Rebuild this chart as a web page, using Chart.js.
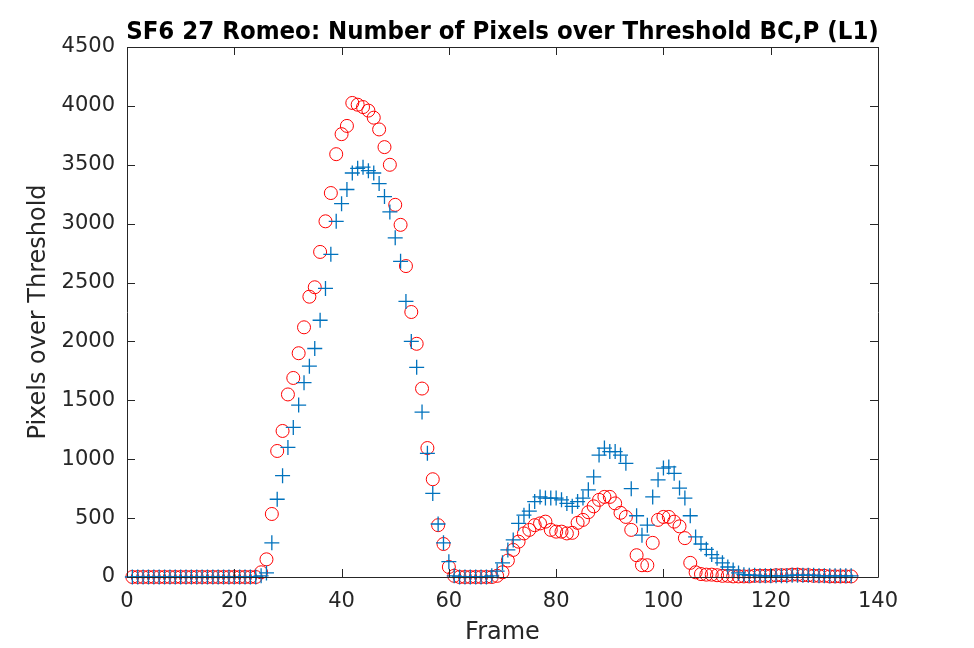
<!DOCTYPE html>
<html>
<head>
<meta charset="utf-8">
<script src="https://cdn.jsdelivr.net/npm/chart.js@4"></script>
<style>
  html, body { margin: 0; padding: 0; background: #fff; }
</style>
</head>
<body>
<canvas id="chart" width="974" height="648"></canvas>
<script>
const frames = Array.from({ length: 135 }, (_, i) => i + 1);

// blue '+' series
const plusValues = [
  0, 0, 0, 0, 0, 0, 0, 0, 0, 0, 0, 0, 0, 0, 0, 0, 0, 0, 0, 0, 0, 0, 0, 0,
  10, 35, 290, 660, 860, 1100, 1270, 1460, 1650, 1790, 1940, 2180, 2450, 2740, 3020, 3170,
  3290, 3430, 3470, 3480, 3450, 3430, 3340, 3230, 3100, 2880, 2680, 2340, 2000, 1780, 1400, 1050,
  710, 450, 290, 130, 10,
  0, 0, 0, 0, 0, 0,
  10, 50, 120, 230, 315, 455, 525, 560, 640, 680, 670, 670, 670, 655, 625, 600,
  640, 670, 740, 850, 1035, 1095, 1065, 1065, 1035, 965, 750, 520, 355, 440, 680, 825,
  925, 935, 880, 755, 670, 520, 340, 280, 235, 190, 160, 120, 85, 60, 35,
  20, 15, 15, 10, 10, 10, 10, 10, 10, 15, 15, 15, 15, 15, 10, 10, 10, 10, 10, 10, 10
];

// red 'o' series
const circleValues = [
  0, 0, 0, 0, 0, 0, 0, 0, 0, 0, 0, 0, 0, 0, 0, 0, 0, 0, 0, 0, 0, 0, 0, 0,
  40, 150, 535, 1070, 1240, 1550, 1690, 1900, 2120, 2380, 2460, 2760, 3020, 3260, 3590, 3760,
  3830, 4025, 4010, 3990, 3960, 3900, 3800, 3650, 3500, 3160, 2990, 2640, 2250, 1980, 1600, 1095,
  830, 440, 280, 85, 10,
  0, 0, 0, 0, 0, 0, 0,
  10, 40, 140, 230, 300, 370, 400, 440, 455, 470, 400, 385, 385, 370, 375, 460,
  485, 550, 600, 655, 680, 680, 625, 545, 510, 400, 185, 100, 100, 290, 485, 510,
  510, 470, 430, 330, 120, 40, 25, 20, 20, 15, 10,
  10, 5, 5, 5, 5, 10, 10, 10, 10, 15, 15, 15, 20, 20, 15, 15, 10, 10, 10, 5, 5, 5, 5, 5
];

const xTicks = [0, 20, 40, 60, 80, 100, 120, 140];
const yTicks = [0, 500, 1000, 1500, 2000, 2500, 3000, 3500, 4000, 4500];

const chartTitle = 'SF6 27 Romeo: Number of Pixels over Threshold BC,P (L1)';
const textColor = '#262626';
const tickFont = { family: 'DejaVu Sans', size: 21 };
const axisTitleFont = { family: 'DejaVu Sans', size: 24 };

// MATLAB style box with inward ticks on all four sides, title centred on the axes
const boxPlugin = {
  id: 'box',
  afterDatasetsDraw(chart) {
    const { ctx, chartArea: a, scales } = chart;
    const len = 8;
    ctx.save();
    ctx.strokeStyle = textColor;
    ctx.lineWidth = 1;
    ctx.beginPath();
    ctx.rect(Math.round(a.left) + 0.5, Math.round(a.top) + 0.5,
      Math.round(a.right - a.left), Math.round(a.bottom - a.top));
    xTicks.forEach((v) => {
      const px = Math.round(scales.x.getPixelForValue(v)) + 0.5;
      ctx.moveTo(px, a.bottom); ctx.lineTo(px, a.bottom - len);
      ctx.moveTo(px, a.top); ctx.lineTo(px, a.top + len);
    });
    yTicks.forEach((v) => {
      const py = Math.round(scales.y.getPixelForValue(v)) + 0.5;
      ctx.moveTo(a.left, py); ctx.lineTo(a.left + len, py);
      ctx.moveTo(a.right, py); ctx.lineTo(a.right - len, py);
    });
    ctx.stroke();

    ctx.fillStyle = '#000';
    ctx.font = 'bold 25.5px "DejaVu Sans Condensed", "DejaVu Sans"';
    ctx.textAlign = 'center';
    ctx.textBaseline = 'middle';
    ctx.fillText(chartTitle, (a.left + a.right) / 2, 32);
    ctx.restore();
  }
};

new Chart(document.getElementById('chart'), {
  type: 'scatter',
  data: {
    datasets: [
      {
        label: 'plus',
        data: frames.map((f, i) => ({ x: f, y: plusValues[i] })),
        pointStyle: 'cross',
        pointRadius: 7.5,
        pointHoverRadius: 7.5,
        borderColor: '#0072BD',
        backgroundColor: '#0072BD',
        pointBorderWidth: 1.3,
        clip: false
      },
      {
        label: 'circle',
        data: frames.map((f, i) => ({ x: f, y: circleValues[i] })),
        pointStyle: 'circle',
        pointRadius: 6.5,
        pointHoverRadius: 6.5,
        borderColor: '#FF0000',
        backgroundColor: 'rgba(0,0,0,0)',
        pointBorderWidth: 1,
        clip: false
      }
    ]
  },
  options: {
    responsive: false,
    animation: false,
    devicePixelRatio: 1,
    layout: { padding: { left: 0, right: 96, top: 47, bottom: 0 } },
    plugins: {
      legend: { display: false },
      tooltip: { enabled: false },
      title: { display: false }
    },
    scales: {
      x: {
        type: 'linear',
        min: 0,
        max: 140,
        afterFit: (scale) => { scale.height = 71; },
        afterBuildTicks: (scale) => { scale.ticks = xTicks.map((v) => ({ value: v })); },
        grid: { display: false, drawTicks: false },
        border: { display: false },
        ticks: { color: textColor, font: tickFont, padding: 12, maxRotation: 0, callback: (v) => String(v) },
        title: {
          display: true,
          text: 'Frame',
          color: textColor,
          font: axisTitleFont,
          padding: { top: 0, bottom: 1 }
        }
      },
      y: {
        type: 'linear',
        min: 0,
        max: 4500,
        afterFit: (scale) => { scale.width = 127; },
        afterBuildTicks: (scale) => { scale.ticks = yTicks.map((v) => ({ value: v })); },
        grid: { display: false, drawTicks: false },
        border: { display: false },
        ticks: { color: textColor, font: tickFont, padding: 12, callback: (v) => String(v) },
        title: {
          display: true,
          text: 'Pixels over Threshold',
          color: textColor,
          font: axisTitleFont,
          padding: { top: 24, bottom: 0 }
        }
      }
    }
  },
  plugins: [boxPlugin]
});
</script>
</body>
</html>
